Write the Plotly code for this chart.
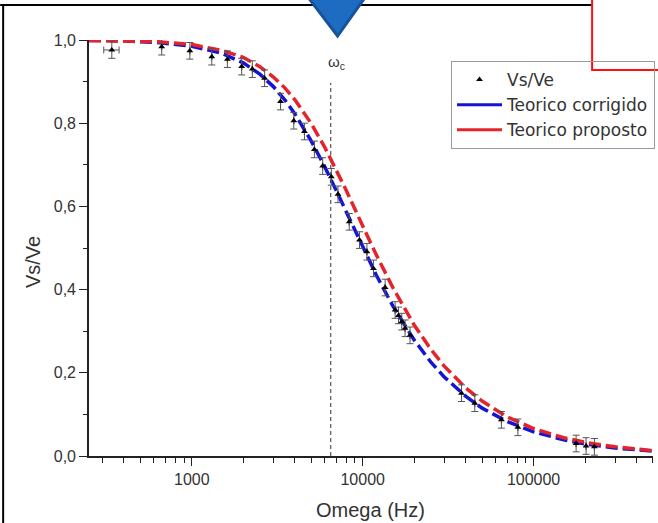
import plotly.graph_objects as go

# ---------------- data ----------------
freq_meas = [340, 666, 973, 1308, 1615, 1957, 2259, 2666, 3303, 3950, 4560, 5215,
             5832, 6550, 7168, 8340, 9577, 10580, 11560, 13530, 15480, 16200, 16930,
             17700, 18920, 37880, 45290, 64830, 80930, 177400, 202900, 227000]
vs_ve = [0.976, 0.984, 0.974, 0.960, 0.954, 0.936, 0.930, 0.908, 0.852, 0.806, 0.780,
         0.737, 0.697, 0.671, 0.629, 0.563, 0.519, 0.491, 0.451, 0.405, 0.351, 0.338,
         0.323, 0.307, 0.290, 0.151, 0.127, 0.087, 0.069, 0.030, 0.024, 0.022]
err_y = [0.02] * len(vs_ve)
err_x = [35] + [0] * (len(vs_ve) - 1)

freq_curve = [250, 400, 630, 1000, 1500, 2000, 2500, 3000, 3500, 4000, 5000, 6000, 7000,
              8000, 10000, 12000, 15000, 20000, 25000, 30000, 40000, 50000, 70000,
              100000, 150000, 200000, 300000, 500000]
teorico_corrigido = [0.999, 0.998, 0.994, 0.985, 0.968, 0.945, 0.918, 0.888, 0.856, 0.823,
                     0.757, 0.695, 0.638, 0.587, 0.502, 0.435, 0.361, 0.279, 0.226, 0.190,
                     0.144, 0.115, 0.083, 0.058, 0.039, 0.029, 0.019, 0.012]
teorico_proposto = [0.999, 0.998, 0.996, 0.989, 0.975, 0.958, 0.936, 0.911, 0.885, 0.857,
                    0.799, 0.742, 0.688, 0.639, 0.553, 0.484, 0.405, 0.315, 0.257, 0.216,
                    0.164, 0.132, 0.094, 0.066, 0.044, 0.033, 0.022, 0.013]

omega_c = 6500
omega_c_line = [0.0, 0.897]

x_tickvals = [1000, 10000, 100000]
x_ticktext = ["1000", "10000", "100000"]
x_minor = [300, 400, 500, 600, 700, 800, 900,
           2000, 3000, 4000, 5000, 6000, 7000, 8000, 9000,
           20000, 30000, 40000, 50000, 60000, 70000, 80000, 90000,
           200000, 300000, 400000, 500000]
y_tickvals = [0.0, 0.2, 0.4, 0.6, 0.8, 1.0]
y_ticktext = ["0,0", "0,2", "0,4", "0,6", "0,8", "1,0"]
y_minor = [0.1, 0.3, 0.5, 0.7, 0.9]

BLUE = "#1414d2"
RED = "#e4242a"
FONT = "Liberation Sans, Arial, sans-serif"
LEGEND_FONT = "DejaVu Sans, Liberation Sans, sans-serif"

# ---------------- layout geometry (pixels) ----------------
W, H = 658, 523
L, R, T, B = 89, 4, 40, 67
PW, PH = W - L - R, H - T - B


def px(x):
    return (x - L) / PW


def py(y):
    return (H - B - y) / PH


fig = go.Figure()

# omega_c dashed vertical line
fig.add_trace(go.Scatter(x=[omega_c, omega_c], y=omega_c_line, mode="lines",
                         line=dict(color="#333333", width=1, dash="4px,3px"),
                         showlegend=False, hoverinfo="skip"))

fig.add_trace(go.Scatter(x=freq_curve, y=teorico_corrigido, mode="lines",
                         line=dict(color=BLUE, width=3.5, dash="12px,5px"),
                         showlegend=False))
fig.add_trace(go.Scatter(x=freq_curve, y=teorico_proposto, mode="lines",
                         line=dict(color=RED, width=3.5, dash="12px,5px"),
                         showlegend=False))

fig.add_trace(go.Scatter(x=freq_meas, y=vs_ve, mode="markers", name="Vs/Ve",
                         marker=dict(symbol="triangle-up", size=6, color="black"),
                         error_y=dict(type="data", array=err_y, color="#555555",
                                      thickness=1, width=3.5),
                         error_x=dict(type="data", array=err_x, color="#555555",
                                      thickness=1, width=3.5)))
# legend entries (solid lines as in the reference legend)
fig.add_trace(go.Scatter(x=[None], y=[None], mode="lines", name="Teorico corrigido",
                         line=dict(color=BLUE, width=3)))
fig.add_trace(go.Scatter(x=[None], y=[None], mode="lines", name="Teorico proposto",
                         line=dict(color=RED, width=3)))

fig.update_xaxes(type="log", range=[2.398, 5.699],
                 tickvals=x_tickvals, ticktext=x_ticktext,
                 ticks="outside", ticklen=8, tickwidth=1.3, tickcolor="#222",
                 minor=dict(tickvals=x_minor, ticks="outside", ticklen=5,
                            tickwidth=1.3, tickcolor="#222", showgrid=False),
                 showline=True, linecolor="#222", linewidth=1.6,
                 showgrid=False, zeroline=False,
                 tickfont=dict(family=FONT, size=16, color="#333"))
fig.update_yaxes(range=[0, 1], tickvals=y_tickvals, ticktext=y_ticktext,
                 ticks="outside", ticklen=8, tickwidth=1.3, tickcolor="#222",
                 minor=dict(tickvals=y_minor, ticks="outside", ticklen=4,
                            tickwidth=1.3, tickcolor="#222", showgrid=False),
                 showline=True, linecolor="#222", linewidth=1.6,
                 showgrid=False, zeroline=False,
                 tickfont=dict(family=FONT, size=16, color="#333"))

annotations = [
    dict(text="Omega (Hz)", xref="paper", yref="paper", x=px(371), y=py(510),
         xanchor="center", yanchor="middle",
         showarrow=False, font=dict(family=FONT, size=20, color="#333")),
    dict(text="Vs/Ve", xref="paper", yref="paper", x=px(33), y=py(262), textangle=-90,
         xanchor="center", yanchor="middle",
         showarrow=False, font=dict(family=FONT, size=20, color="#333")),
    dict(text="ω<sub>c</sub>", xref="paper", yref="paper", x=px(337), y=py(62),
         xanchor="center", yanchor="middle",
         showarrow=False, font=dict(family=FONT, size=15, color="#333")),
]

shapes = [
    # outer frame lines of the slide
    dict(type="line", xref="paper", yref="paper", x0=px(0), x1=px(593), y0=py(5), y1=py(5),
         line=dict(color="black", width=2)),
    dict(type="line", xref="paper", yref="paper", x0=px(3), x1=px(3), y0=py(5), y1=py(530),
         line=dict(color="black", width=2)),
    # blue pointer triangle
    dict(type="path", xref="paper", yref="paper",
         path=f"M {px(306)},{py(-6)} L {px(368)},{py(-6)} L {px(338)},{py(36)} Z",
         fillcolor="#1e6cc2", line=dict(color="#17529a", width=3)),
    # red rectangle
    dict(type="rect", xref="paper", yref="paper", x0=px(593), x1=px(670), y0=py(70), y1=py(-6),
         fillcolor="white", line=dict(color="#ff1010", width=2)),
]

fig.update_layout(
    width=W, height=H,
    margin=dict(l=L, r=R, t=T, b=B),
    paper_bgcolor="white", plot_bgcolor="white",
    font=dict(family=FONT, color="#333"),
    annotations=annotations, shapes=shapes,
    legend=dict(x=px(655), y=py(61), xanchor="right", yanchor="top",
                bgcolor="rgba(0,0,0,0)", bordercolor="#9a9a9a", borderwidth=1,
                font=dict(family=LEGEND_FONT, size=17, color="#333"),
                itemwidth=45, tracegroupgap=0),
)

fig.write_html("out.html")
